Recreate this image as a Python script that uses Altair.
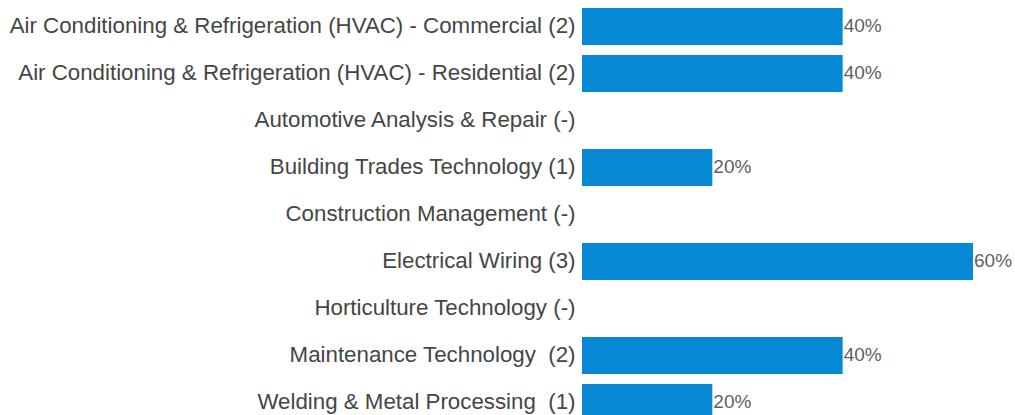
import altair as alt
import pandas as pd

categories = [
    "Air Conditioning & Refrigeration (HVAC) - Commercial (2)",
    "Air Conditioning & Refrigeration (HVAC) - Residential (2)",
    "Automotive Analysis & Repair (-)",
    "Building Trades Technology (1)",
    "Construction Management (-)",
    "Electrical Wiring (3)",
    "Horticulture Technology (-)",
    "Maintenance Technology \u00a0(2)",
    "Welding & Metal Processing \u00a0(1)",
]
values = [0.4, 0.4, 0.0, 0.2, 0.0, 0.6, 0.0, 0.4, 0.2]

df = pd.DataFrame({"category": categories, "value": values})
df["label"] = [f"{round(v*100)}%" if v > 0 else "" for v in values]

y_scale = alt.Scale(range=[3, 426], paddingInner=0.213, paddingOuter=0.1065)
y_axis = alt.Axis(
    domain=False, ticks=False, grid=False, labelPadding=7,
    labelFont="Liberation Sans", labelFontSize=22.3, labelColor="#454545",
    labelLimit=0, labelOffset=-1,
)
x_scale = alt.Scale(domain=[0, 0.6], range=[0, 391])

bars = alt.Chart(df).mark_bar(color="#0788D4").encode(
    y=alt.Y("category:N", sort=None, title=None, scale=y_scale, axis=y_axis),
    x=alt.X("value:Q", scale=x_scale, axis=None),
)

text = alt.Chart(df).transform_filter("datum.value > 0").mark_text(
    align="left", baseline="middle", dx=1, dy=-1, font="Liberation Sans",
    fontSize=19, color="#5f5f5f",
).encode(
    y=alt.Y("category:N", sort=None, title=None, scale=y_scale, axis=y_axis),
    x=alt.X("value:Q", scale=x_scale, axis=None),
    text="label:N",
)

chart = (bars + text).properties(
    width=433, height=415,
    background="white",
    autosize=alt.AutoSizeParams(type="none"),
    padding={"left": 582, "top": 0, "right": 0, "bottom": 0},
).configure_view(strokeWidth=0, stroke="transparent")

chart.save("out.html", embed_options={"renderer": "svg", "actions": False})
